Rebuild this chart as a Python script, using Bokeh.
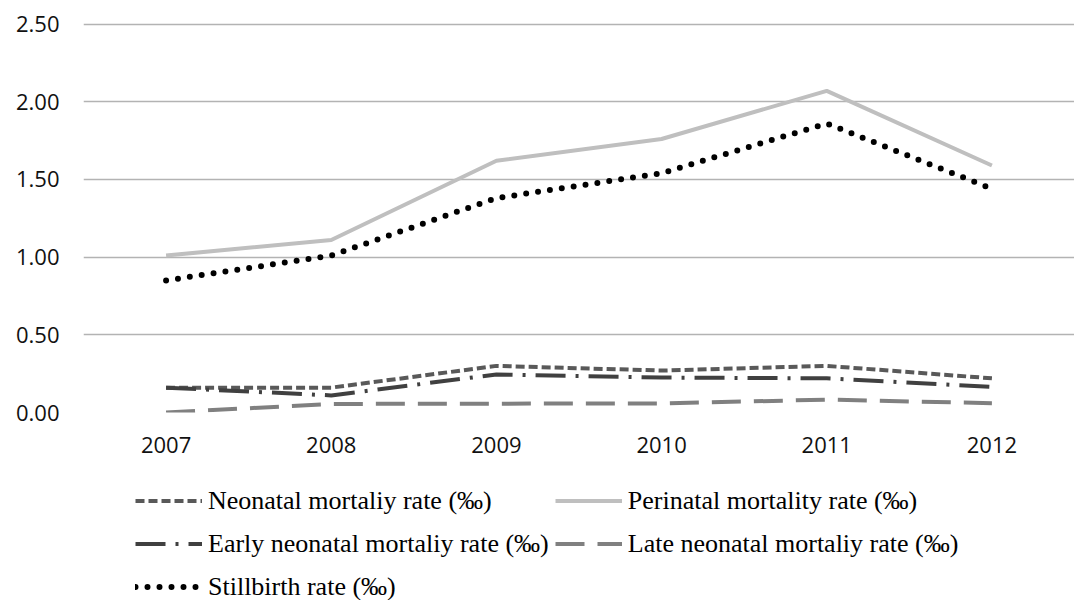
from bokeh.plotting import figure
from bokeh.layouts import column
from bokeh.models import Range1d, FactorRange, Legend, LegendItem, SingleIntervalTicker, NumeralTickFormatter
from bokeh.embed import file_html
from bokeh.resources import INLINE

years = ["2007", "2008", "2009", "2010", "2011", "2012"]
neonatal = [0.16, 0.16, 0.30, 0.27, 0.30, 0.22]
perinatal = [1.01, 1.11, 1.62, 1.76, 2.07, 1.59]
early_neonatal = [0.16, 0.11, 0.245, 0.225, 0.22, 0.165]
late_neonatal = [0.00, 0.055, 0.057, 0.058, 0.083, 0.06]
stillbirth = [0.85, 1.01, 1.38, 1.54, 1.86, 1.44]

labels = [
    "Neonatal mortaliy rate (\u2030)",
    "Perinatal mortality rate (\u2030)",
    "Early neonatal mortaliy rate (\u2030)",
    "Late neonatal mortaliy rate (\u2030)",
    "Stillbirth rate (\u2030)",
]

styles = [
    dict(line_color="#595959", line_width=4, line_dash="9 4"),
    dict(line_color="#bfbfbf", line_width=4),
    dict(line_color="#404040", line_width=4, line_dash="30 10 3 10"),
    dict(line_color="#808080", line_width=4, line_dash="29 13"),
    dict(line_color="black", line_width=6, line_dash="0 12", line_cap="round"),
]
series = [neonatal, perinatal, early_neonatal, late_neonatal, stillbirth]

W = 1074
p = figure(width=W, height=468, x_range=FactorRange(*years, range_padding=0),
           y_range=Range1d(0, 2.51), output_backend="svg", toolbar_location=None,
           min_border_left=83, min_border_right=0, min_border_top=22, min_border_bottom=56)
p.outline_line_color = None
p.background_fill_color = "white"
p.border_fill_color = "white"

for vals, st in zip(series, styles):
    p.line(years, vals, **st)

p.xgrid.grid_line_color = None
p.ygrid.grid_line_color = "#b3b3b3"
p.ygrid.grid_line_width = 1.3
p.yaxis.ticker = SingleIntervalTicker(interval=0.5)
p.yaxis.formatter = NumeralTickFormatter(format="0.00")

for ax in (p.xaxis, p.yaxis):
    ax.axis_line_color = None
    ax.major_tick_line_color = None
    ax.minor_tick_line_color = None
    ax.major_tick_out = 0
    ax.major_tick_in = 0
    ax.major_label_text_font = "Open Sans"
    ax.major_label_text_font_size = "22px"
    ax.major_label_text_color = "#111111"
p.yaxis.major_label_standoff = 20
p.xaxis.major_label_standoff = 24

# legend panel (series drawn outside the visible y-range; only legend shows)
p2 = figure(width=W, height=132, x_range=FactorRange(*years, range_padding=0),
            y_range=Range1d(10, 11),
            output_backend="svg", toolbar_location=None,
            x_axis_location=None, y_axis_location=None,
            min_border_left=0, min_border_right=0, min_border_top=0, min_border_bottom=0)
p2.outline_line_color = None
p2.grid.grid_line_color = None
p2.border_fill_color = "white"
p2.background_fill_color = "white"

items = []
for lab, vals, st in zip(labels, series, styles):
    r = p2.line(years, vals, **st)
    items.append(LegendItem(label=lab, renderers=[r]))

legend = Legend(items=items, orientation="horizontal", nrows=3, location=(52, -5))
legend.label_text_font = "Liberation Serif"
legend.label_text_font_size = "26px"
legend.label_text_color = "black"
legend.glyph_width = 67
legend.glyph_height = 37
legend.label_standoff = 6
legend.spacing = 6
legend.padding = 0
legend.margin = 0
legend.border_line_alpha = 0
legend.background_fill_alpha = 0
p2.add_layout(legend, "center")

layout = column(p, p2, spacing=0)
open("out.html", "w").write(file_html(layout, INLINE))
